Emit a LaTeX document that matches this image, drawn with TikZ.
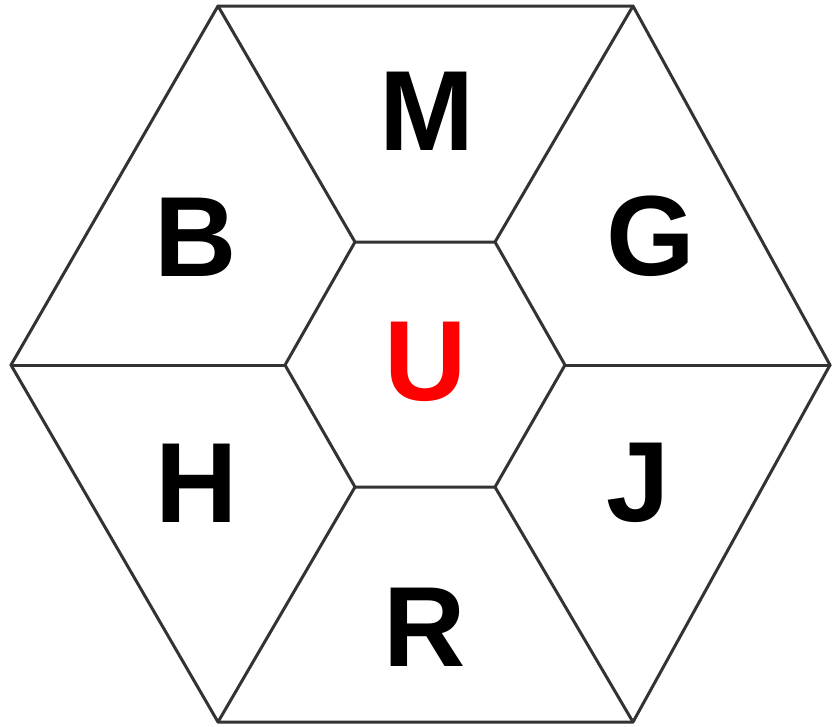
\documentclass[tikz,border=0pt]{standalone}
\usepackage{fontspec}
\setmainfont{Liberation Sans}
\begin{document}
\begin{tikzpicture}[x=1pt,y=-1pt,
  edge/.style={draw=black!80,line width=3pt,line join=round,line cap=round},
  lab/.style={font=\fontsize{114}{114}\selectfont\bfseries,text=black,inner sep=0pt}]
\useasboundingbox (0,0) rectangle (832,726);
% outer vertices
\coordinate (o1) at (218,6);
\coordinate (o2) at (633,6);
\coordinate (o3) at (830,365);
\coordinate (o4) at (633,722);
\coordinate (o5) at (218,722);
\coordinate (o6) at (11,365);
% inner vertices
\coordinate (i1) at (355,242);
\coordinate (i2) at (495,242);
\coordinate (i3) at (565,365);
\coordinate (i4) at (495,487);
\coordinate (i5) at (355,487);
\coordinate (i6) at (285,365);
\draw[edge] (o1)--(o2)--(o3)--(o4)--(o5)--(o6)--cycle;
\draw[edge] (i1)--(i2)--(i3)--(i4)--(i5)--(i6)--cycle;
\draw[edge] (o1)--(i1);
\draw[edge] (o2)--(i2);
\draw[edge] (o3)--(i3);
\draw[edge] (o4)--(i4);
\draw[edge] (o5)--(i5);
\draw[edge] (o6)--(i6);
\node[lab] (M) at (427,111) {M};
\node[lab] (B) at (196,237) {B};
\node[lab] (G) at (651,236) {G};
\node[lab,text=red] (U) at (426,362) {U};
\node[lab] (H) at (197,483) {H};
\node[lab] (J) at (638,483) {J};
\node[lab] (R) at (425,627) {R};
\end{tikzpicture}
\end{document}
